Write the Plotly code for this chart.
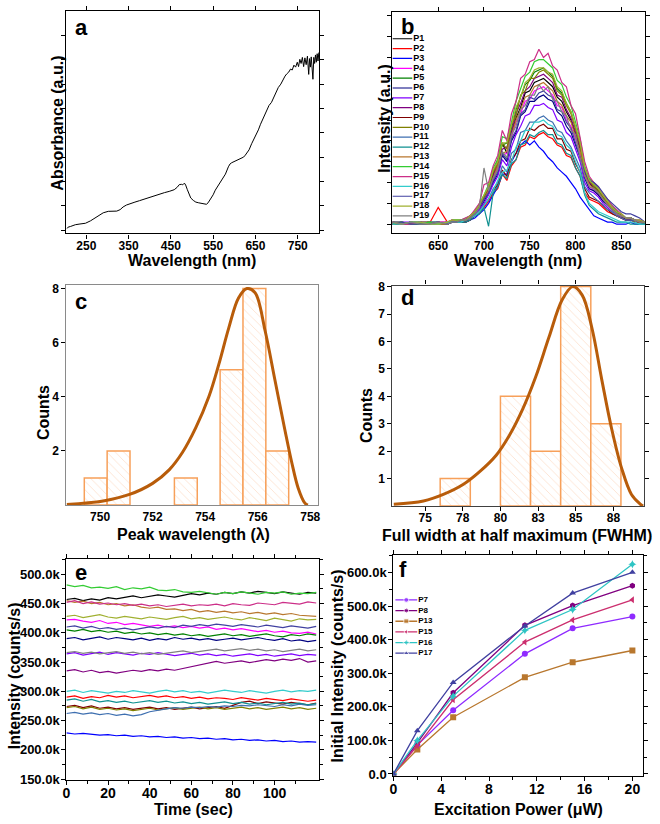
import plotly.graph_objects as go

W, H = 660, 824
FONT = "Liberation Sans"


def fx(px):
    return px / W


def fy(py):
    return 1 - py / H


# ==========================================================
# DATA
# ==========================================================

# --- a: absorbance spectrum (a.u.) ---
abs_wl = [204, 207, 213, 224, 235, 248, 260, 275, 290, 302, 315, 322, 330, 337, 345, 353,
          365, 376, 388, 400, 412, 423, 435, 446, 458, 465, 470, 475, 478, 482, 485, 489,
          493, 497, 503, 509, 516, 524, 530, 534, 538, 544, 550, 555, 563, 571, 579, 586,
          590, 594, 600, 606, 612, 618, 622, 626, 630, 635, 641, 646, 652, 657, 662, 667,
          672, 677, 682, 688, 693, 699, 704, 710, 715, 720, 724, 729, 733, 737, 741, 745,
          749, 752, 755, 758, 761, 764, 767, 770, 773, 776, 778, 780, 782, 784, 786, 788,
          790, 792, 794, 796, 798, 800]
abs_val = [0.06, 0.12, 0.15, 0.22, 0.25, 0.28, 0.38, 0.54, 0.71, 0.77, 0.78, 0.78, 0.84, 0.95,
           1.03, 1.09, 1.15, 1.21, 1.28, 1.36, 1.42, 1.49, 1.54, 1.59, 1.66, 1.76, 1.87, 1.88,
           1.86, 1.93, 1.85, 1.66, 1.45, 1.32, 1.22, 1.15, 1.12, 1.08, 1.05, 1.06, 1.12, 1.27,
           1.45, 1.64, 1.85, 2.05, 2.30, 2.60, 2.72, 2.77, 2.82, 2.87, 2.90, 2.96, 3.00, 3.08,
           3.16, 3.30, 3.55, 3.72, 3.95, 4.12, 4.35, 4.55, 4.78, 4.92, 5.12, 5.25, 5.45, 5.68,
           5.86, 6.00, 6.20, 6.33, 6.42, 6.50, 6.62, 6.58, 6.78, 6.70, 6.90, 6.72, 7.02, 6.85,
           7.10, 6.72, 7.08, 6.80, 7.15, 6.40, 7.05, 6.70, 7.12, 6.55, 6.20, 7.10, 6.85, 7.20,
           6.90, 7.25, 6.95, 7.30]

# --- b: PL spectra (intensity x10, a.u.) ---
pl_wl = [600, 610, 620, 630, 640, 650, 660, 665, 670, 675, 680, 685, 690, 695, 700, 705,
         710, 715, 720, 725, 730, 735, 740, 745, 750, 755, 760, 765, 770, 775, 780, 785,
         790, 795, 800, 805, 810, 815, 820, 825, 830, 835, 840, 845, 850, 855, 860, 865,
         870, 876]
pl_P1 = [0, 0, 1, 1, 0, 0, 1, 1, 1, 2, 2, 4, 6, 8, 13, 17, 24, 28, 39, 34, 44, 51, 56, 63, 64, 68,
         69, 70, 68, 66, 61, 59, 54, 50, 43, 36, 25, 20, 17, 15, 12, 10, 8, 6, 4, 3, 3, 2, 1, 1]
pl_P2 = [0, 1, 0, 1, 0, 8, 1, 1, 1, 1, 1, 2, 4, 5, 8, 11, 15, 17, 24, 21, 28, 31, 37, 38, 42, 41,
         43, 44, 42, 41, 38, 37, 33, 32, 27, 23, 15, 12, 11, 10, 8, 6, 5, 4, 3, 2, 2, 1, 1, 0]
pl_P3 = [1, 0, 0, 1, 0, 0, 1, 1, 1, 1, 1, 2, 3, 5, 7, 10, 14, 18, 24, 24, 30, 34, 38, 40, 38, 40,
         37, 35, 32, 30, 27, 25, 23, 20, 17, 13, 10, 7, 4, 3, 2, 1, 1, 0, 0, 0, 1, 0, 0, 0]
pl_P4 = [0, 1, 0, 1, 0, 1, 1, 1, 1, 2, 2, 3, 5, 8, 12, 16, 21, 27, 33, 34, 41, 49, 53, 59, 60, 64,
         65, 66, 64, 62, 57, 56, 50, 47, 41, 34, 23, 18, 16, 14, 12, 9, 7, 5, 4, 3, 3, 2, 1, 1]
pl_P5 = [0, 0, 1, 0, 1, 1, 0, 2, 2, 2, 2, 4, 6, 9, 13, 18, 24, 31, 38, 39, 46, 55, 61, 67, 69, 73,
         74, 75, 73, 71, 65, 63, 58, 54, 46, 39, 26, 21, 19, 16, 13, 10, 8, 6, 4, 3, 3, 2, 1, 1]
pl_P6 = [1, 0, 0, 1, 1, 0, 0, 1, 1, 2, 2, 3, 5, 7, 11, 15, 20, 24, 33, 30, 40, 44, 52, 54, 59, 59,
         61, 62, 60, 59, 54, 52, 47, 44, 38, 32, 22, 17, 16, 14, 11, 9, 7, 5, 4, 2, 2, 2, 1, 1]
pl_P7 = [0, 1, 1, 0, 0, 1, 0, 1, 1, 2, 2, 3, 5, 7, 10, 14, 19, 23, 31, 28, 37, 43, 47, 52, 53, 57,
         57, 58, 56, 55, 50, 49, 44, 42, 36, 30, 20, 16, 15, 13, 10, 8, 6, 5, 3, 2, 2, 2, 1, 1]
pl_P8 = [1, 0, 1, 0, 1, 0, 0, 1, 1, 2, 2, 4, 6, 9, 13, 17, 23, 30, 36, 37, 44, 53, 58, 64, 66, 70,
         71, 72, 70, 68, 62, 61, 55, 51, 44, 37, 25, 20, 18, 16, 13, 10, 8, 6, 4, 3, 3, 2, 1, 1]
pl_P9 = [0, 0, 1, 0, 1, 0, 1, 1, 1, 1, 1, 2, 4, 6, 9, 12, 16, 19, 26, 23, 31, 34, 40, 41, 46, 45,
         47, 48, 46, 46, 41, 41, 36, 35, 29, 25, 17, 13, 12, 11, 9, 7, 5, 4, 3, 2, 2, 1, 1, 0]
pl_P10 = [1, 1, 0, 0, 1, 0, 0, 1, 1, 2, 2, 4, 6, 9, 13, 18, 25, 29, 39, 36, 48, 52, 62, 64, 70, 70,
          73, 74, 72, 70, 64, 62, 57, 53, 46, 38, 26, 21, 18, 16, 13, 10, 8, 6, 4, 3, 3, 2, 1, 1]
pl_P11 = [0, 1, 0, 0, 1, 1, 0, 1, 1, 2, 2, 3, 4, 6, 9, 12, 17, 20, 28, 25, 34, 36, 44, 45, 49, 49,
          51, 52, 50, 49, 45, 44, 40, 37, 32, 27, 18, 15, 13, 11, 9, 7, 6, 4, 3, 2, 2, 2, 1, 1]
pl_P12 = [1, 0, 1, 0, 0, 1, 0, 1, 1, 1, 1, 2, 4, 5, 8, -1, 15, 18, 24, 22, 29, 31, 38, 39, 43, 42,
          44, 45, 43, 43, 39, 38, 34, 33, 27, 23, 14, 9, 7, 5, 4, 3, 2, 1, 1, 1, 0, 0, 0, 0]
pl_P13 = [1, 0, 0, 1, 1, 0, 0, 1, 1, 2, 2, 3, 5, 8, 12, 16, 22, 28, 34, 35, 42, 50, 55, 61, 62, 66,
          67, 68, 66, 64, 59, 57, 52, 49, 42, 35, 24, 19, 17, 15, 12, 10, 7, 5, 4, 3, 3, 2, 1, 1]
pl_P14 = [0, 1, 0, 0, 1, 0, 1, 2, 2, 2, 3, 4, 6, 10, 14, 19, 27, 31, 42, 41, 49, 59, 65, 71, 73, 78,
          79, 79, 77, 75, 69, 67, 61, 57, 49, 41, 28, 22, 20, 17, 14, 11, 9, 6, 5, 3, 3, 2, 2, 1]
pl_P15 = [1, 0, 0, 1, 0, 1, 1, 2, 1, 2, 3, 4, 7, 10, 19, 20, 28, 33, 45, 40, 53, 59, 70, 72, 78, 79,
          84, 80, 82, 76, 74, 68, 66, 57, 53, 41, 30, 23, 20, 18, 14, 12, 9, 7, 5, 3, 3, 2, 2, 1]
pl_P16 = [0, 0, 1, 1, 0, 0, 1, 1, 1, 1, 2, 3, 4, 6, 9, 12, 16, 21, 25, 26, 30, 37, 40, 45, 45, 49,
          49, 50, 48, 47, 43, 42, 38, 36, 30, 25, 15, 10, 8, 6, 5, 4, 3, 2, 1, 1, 1, 1, 0, 0]
pl_P17 = [1, 1, 0, 0, 0, 1, 0, 1, 1, 2, 2, 3, 5, 8, 12, 15, 21, 25, 34, 31, 41, 45, 53, 55, 61, 60,
          63, 64, 62, 61, 55, 54, 49, 46, 39, 33, 25, 21, 20, 18, 15, 12, 10, 8, 6, 5, 5, 4, 3, 1]
pl_P18 = [1, 0, 1, 1, 0, 0, 1, 2, 2, 2, 2, 4, 6, 9, 14, 18, 26, 30, 39, 39, 47, 56, 61, 68, 70, 74,
          75, 75, 73, 72, 66, 64, 58, 54, 47, 39, 27, 21, 19, 17, 14, 11, 8, 6, 5, 3, 3, 2, 2, 1]
pl_P19 = [1, 0, 1, 0, 0, 1, 0, 1, 1, 2, 2, 3, 5, 8, 27, 16, 22, 26, 35, 32, 43, 47, 55, 57, 62, 62,
          67, 64, 66, 60, 59, 54, 52, 45, 43, 32, 23, 18, 17, 15, 12, 9, 7, 5, 4, 3, 3, 2, 1, 1]

p_names = ["P%d" % i for i in range(1, 20)]
p_colors = ["#000000", "#ff0000", "#0000ff", "#ff00ff", "#008000", "#000080", "#8000ff",
            "#800080", "#800000", "#808000", "#3e6fb0", "#0f9090", "#b8772e", "#33cc33",
            "#cc2e88", "#33cccc", "#4040a0", "#a0b030", "#808080"]
pl_all = [pl_P1, pl_P2, pl_P3, pl_P4, pl_P5, pl_P6, pl_P7, pl_P8, pl_P9, pl_P10,
          pl_P11, pl_P12, pl_P13, pl_P14, pl_P15, pl_P16, pl_P17, pl_P18, pl_P19]

# --- c: peak wavelength histogram ---
c_bin_left = [749.40, 750.27, 752.83, 754.57, 755.44, 756.31]
c_bin_width = 0.87
c_counts = [1, 2, 1, 5, 8, 2]
c_fit_x = [748.73, 750.12, 751.12, 752.0, 752.63, 753.14, 753.64, 754.14, 754.52, 754.9,
           755.27, 755.59, 755.9, 756.28, 756.66, 757.03, 757.29, 757.54, 757.79, 757.91]
c_fit_y = [0.02, 0.15, 0.39, 0.8, 1.3, 1.95, 2.85, 4.0, 5.2, 6.55,
           7.65, 8.0, 7.85, 6.45, 4.6, 2.8, 1.6, 0.63, 0.08, 0.0]

# --- d: FWHM histogram ---
d_bin_left = [76, 80, 82, 84, 86]
d_bin_width = 2
d_counts = [1, 4, 2, 8, 3]
d_fit_x = [72.92, 74.89, 76.21, 77.52, 78.62, 79.72, 80.59, 81.47, 82.35, 83.22,
           84.1, 84.8, 85.42, 86.07, 86.73, 87.39, 88.05, 88.7, 89.26, 89.47]
d_fit_y = [0.06, 0.18, 0.42, 0.78, 1.25, 1.85, 2.57, 3.52, 4.72, 6.15,
           7.52, 8.0, 7.7, 6.5, 4.6, 2.8, 1.37, 0.42, 0.08, 0.0]

# --- e: intensity time traces (k counts/s) ---
e_time = list(range(0, 121, 4))
e_P14 = [482, 479, 481, 477, 478, 476, 479, 474, 477, 475, 478, 473, 472, 474, 470, 469, 471, 468,
         466, 469, 467, 470, 468, 466, 469, 468, 470, 466, 468, 467, 469]
e_P1 = [457, 459, 455, 458, 456, 460, 458, 461, 463, 460, 462, 465, 463, 461, 464, 467, 465, 468,
        466, 469, 467, 470, 468, 471, 469, 467, 470, 468, 466, 469, 468]
e_P15 = [452, 455, 450, 453, 449, 451, 448, 450, 447, 449, 446, 448, 445, 447, 449, 446, 448, 447,
         449, 446, 450, 448, 447, 451, 449, 448, 452, 450, 449, 453, 451]
e_P13 = [455, 452, 454, 450, 452, 448, 450, 446, 448, 444, 442, 444, 440, 441, 438, 440, 436, 438,
         435, 437, 434, 436, 433, 435, 432, 434, 431, 433, 430, 429, 428]
e_P18 = [428, 430, 426, 429, 431, 427, 425, 428, 426, 424, 427, 425, 423, 426, 428, 424, 426, 423,
         425, 427, 424, 422, 426, 424, 421, 425, 423, 420, 424, 422, 423]
e_P4 = [422, 423, 420, 418, 421, 416, 418, 414, 416, 413, 411, 413, 410, 412, 409, 411, 408, 410,
        406, 408, 405, 407, 404, 402, 404, 401, 403, 400, 399, 401, 398]
e_P17 = [410, 412, 408, 411, 407, 409, 406, 408, 405, 407, 410, 408, 411, 409, 413, 411, 414, 412,
         415, 413, 411, 414, 412, 410, 413, 411, 409, 412, 410, 408, 411]
e_P5 = [405, 403, 406, 402, 404, 401, 403, 399, 401, 398, 400, 397, 399, 396, 398, 395, 397, 394,
        396, 398, 395, 397, 394, 396, 398, 395, 393, 397, 395, 398, 396]
e_P6 = [390, 392, 388, 391, 393, 389, 392, 390, 388, 391, 387, 390, 388, 392, 389, 391, 388, 390,
        387, 389, 391, 388, 390, 392, 389, 387, 390, 386, 388, 385, 387]
e_P19 = [366, 368, 365, 367, 364, 366, 368, 365, 367, 364, 366, 363, 365, 367, 369, 366, 368, 370,
         372, 369, 371, 373, 370, 372, 369, 371, 368, 370, 372, 369, 371]
e_P7 = [364, 366, 362, 365, 367, 363, 366, 364, 362, 365, 363, 366, 364, 361, 363, 365, 362, 364,
        361, 363, 360, 362, 364, 361, 363, 360, 362, 364, 361, 363, 362]
e_P8 = [335, 337, 333, 336, 332, 334, 331, 333, 336, 334, 337, 335, 338, 336, 339, 342, 346, 349,
        351, 348, 350, 352, 349, 351, 354, 352, 355, 353, 356, 350, 352]
e_P16 = [300, 302, 298, 301, 299, 297, 300, 298, 301, 299, 297, 300, 302, 299, 301, 298, 300, 297,
         299, 302, 300, 298, 301, 299, 297, 300, 302, 299, 301, 300, 302]
e_P2 = [290, 292, 288, 291, 289, 293, 290, 292, 289, 291, 293, 290, 292, 289, 291, 288, 290, 287,
        289, 288, 286, 289, 287, 285, 288, 286, 284, 287, 285, 283, 285]
e_P12 = [285, 287, 283, 286, 282, 284, 281, 283, 280, 282, 284, 281, 283, 280, 282, 279, 281, 278,
         280, 282, 279, 281, 278, 280, 277, 279, 281, 278, 280, 277, 279]
e_P9 = [274, 276, 272, 275, 271, 273, 270, 272, 269, 271, 273, 270, 272, 269, 271, 273, 270, 272,
        274, 271, 276, 281, 283, 279, 282, 280, 278, 281, 279, 277, 280]
e_P10 = [272, 274, 270, 273, 269, 271, 268, 270, 267, 269, 271, 268, 270, 272, 269, 271, 273, 270,
         272, 269, 271, 273, 270, 272, 269, 271, 273, 270, 272, 269, 271]
e_P11 = [262, 264, 261, 263, 260, 262, 259, 261, 258, 260, 265, 268, 270, 272, 271, 273, 272, 274,
         273, 275, 274, 276, 275, 277, 276, 274, 277, 275, 278, 276, 277]
e_P3 = [229, 227, 228, 226, 225, 226, 224, 225, 223, 224, 222, 223, 221, 222, 220, 221, 219, 220,
        218, 219, 217, 218, 216, 217, 215, 216, 214, 215, 213, 214, 213]
e_traces = [(e_P1, 0), (e_P2, 1), (e_P3, 2), (e_P4, 3), (e_P5, 4), (e_P6, 5), (e_P7, 6),
            (e_P8, 7), (e_P9, 8), (e_P10, 9), (e_P11, 10), (e_P12, 11), (e_P13, 12),
            (e_P14, 13), (e_P15, 14), (e_P16, 15), (e_P17, 16), (e_P18, 17), (e_P19, 18)]

# --- f: initial intensity vs excitation power (k counts/s) ---
f_power = [0, 2, 5, 11, 15, 20]
f_names = ["P7", "P8", "P13", "P15", "P16", "P17"]
f_P7 = [0, 86, 190, 358, 434, 469]
f_P8 = [0, 93, 242, 443, 502, 561]
f_P13 = [0, 73, 169, 288, 333, 368]
f_P15 = [0, 84, 221, 393, 459, 519]
f_P16 = [0, 100, 232, 428, 490, 625]
f_P17 = [0, 129, 273, 441, 539, 601]
f_colors = ["#8f2bff", "#800080", "#b8772e", "#cc2e6e", "#2ec4c4", "#4040a0"]
f_symbols = ["circle", "hexagon", "square", "triangle-left", "star-diamond", "triangle-up"]
f_all = [f_P7, f_P8, f_P13, f_P15, f_P16, f_P17]


# ==========================================================
# FIGURE
# ==========================================================
fig = go.Figure()

# a
fig.add_trace(go.Scatter(x=abs_wl, y=abs_val, mode="lines",
                         line=dict(color="black", width=1), xaxis="x", yaxis="y"))

# b
for vals, col in zip(pl_all, p_colors):
    fig.add_trace(go.Scatter(x=pl_wl, y=vals, mode="lines",
                             line=dict(color=col, width=1.2), xaxis="x2", yaxis="y2"))

# c
fig.add_trace(go.Bar(x=c_bin_left, y=c_counts, width=c_bin_width, offset=0,
                     marker=dict(color="white", line=dict(color="#f7a05a", width=1.5),
                                 pattern=dict(shape="\\", fgcolor="#f9b88a", size=6, solidity=0.12)),
                     xaxis="x3", yaxis="y3"))
fig.add_trace(go.Scatter(x=c_fit_x, y=c_fit_y, mode="lines", line_shape="spline",
                         line=dict(color="#b85c0a", width=3), xaxis="x3", yaxis="y3"))

# d
fig.add_trace(go.Bar(x=d_bin_left, y=d_counts, width=d_bin_width, offset=0,
                     marker=dict(color="white", line=dict(color="#f7a05a", width=1.5),
                                 pattern=dict(shape="\\", fgcolor="#f9b88a", size=6, solidity=0.12)),
                     xaxis="x4", yaxis="y4"))
fig.add_trace(go.Scatter(x=d_fit_x, y=d_fit_y, mode="lines", line_shape="spline",
                         line=dict(color="#b85c0a", width=3), xaxis="x4", yaxis="y4"))

# e
for vals, idx in e_traces:
    fig.add_trace(go.Scatter(x=e_time, y=vals, mode="lines",
                             line=dict(color=p_colors[idx], width=1.2), xaxis="x5", yaxis="y5"))

# f
for vals, col, sym in zip(f_all, f_colors, f_symbols):
    fig.add_trace(go.Scatter(x=f_power, y=vals, mode="lines+markers",
                             line=dict(color=col, width=1.3),
                             marker=dict(color=col, symbol=sym, size=6),
                             xaxis="x6", yaxis="y6"))

# legend of b (drawn on a hidden helper axis, one row per entry)
leg_font = dict(family=FONT, size=9, color="black", weight="bold")
for i, (name, col) in enumerate(zip(p_names, p_colors), start=1):
    fig.add_trace(go.Scatter(x=[0, 20], y=[i, i], mode="lines", line=dict(color=col, width=1.2),
                             xaxis="x7", yaxis="y7"))
    fig.add_trace(go.Scatter(x=[21], y=[i], mode="text", text=[name], textposition="middle right",
                             textfont=leg_font, xaxis="x7", yaxis="y7"))

# legend of f
leg_font_f = dict(family=FONT, size=8, color="black", weight="bold")
for i, (name, col, sym) in enumerate(zip(f_names, f_colors, f_symbols), start=1):
    fig.add_trace(go.Scatter(x=[2, 13, 24], y=[i, i, i], mode="lines+markers",
                             line=dict(color=col, width=1.3),
                             marker=dict(color=col, symbol=sym, size=[0, 5, 0]),
                             xaxis="x8", yaxis="y8"))
    fig.add_trace(go.Scatter(x=[25], y=[i], mode="text", text=[name], textposition="middle right",
                             textfont=leg_font_f, xaxis="x8", yaxis="y8"))


# ==========================================================
# AXES
# ==========================================================
def ax(domain, rng, anchor, fs=12, mirror="ticks", linecolor="black", lw=1.3,
       ticks="outside", showlabels=True, **kw):
    d = dict(domain=domain, range=rng, anchor=anchor, showgrid=False, zeroline=False,
             showline=True, linecolor=linecolor, linewidth=lw, mirror=mirror,
             ticks=ticks, ticklen=4, tickwidth=1, tickcolor="black",
             showticklabels=showlabels,
             tickfont=dict(family=FONT, size=fs, color="black", weight="bold"))
    d.update(kw)
    return d


e_yticks = [150, 200, 250, 300, 350, 400, 450, 500]
f_yticks = [0, 100, 200, 300, 400, 500, 600]

fig.update_layout(
    width=W, height=H, margin=dict(l=0, r=0, t=0, b=0),
    paper_bgcolor="white", plot_bgcolor="rgba(0,0,0,0)",
    showlegend=False, hovermode=False, barmode="overlay",
    # a
    xaxis=ax([fx(63), fx(318)], [203, 800.6], "y", tickvals=[250, 350, 450, 550, 650, 750],
             ticklabelstandoff=-3),
    yaxis=ax([fy(231), fy(5)], [-0.135, 9.01], "x", showlabels=False, tickvals=list(range(0, 9))),
    # b
    xaxis2=ax([fx(392), fx(647)], [600, 876], "y2", tickvals=[650, 700, 750, 800, 850],
              ticklabelstandoff=-3),
    yaxis2=ax([fy(231), fy(6)], [-4.4, 101.9], "x2", showlabels=False,
              tickvals=list(range(0, 101, 10))),
    # c
    xaxis3=ax([fx(63), fx(317)], [748.72, 758.3], "y3", mirror=True, linecolor="#8a8a8a",
              lw=1.2, ticks="", tickvals=[750, 752, 754, 756, 758]),
    yaxis3=ax([fy(507), fy(283)], [0, 8.15], "x3", mirror=True, linecolor="#8a8a8a",
              lw=1.2, tickvals=[2, 4, 6, 8]),
    # d
    xaxis4=ax([fx(392), fx(646)], [72.83, 89.54], "y4", linecolor="#404040", lw=1.2,
              tickvals=[75, 77.5, 80, 82.5, 85, 87.5], ticklabelstandoff=-3,
              ticktext=["75", "78", "80", "83", "85", "88"]),
    yaxis4=ax([fy(508), fy(284)], [0, 8.04], "x4", linecolor="#404040", lw=1.2,
              tickvals=[1, 2, 3, 4, 5, 6, 7, 8]),
    # e
    xaxis5=ax([fx(63), fx(318)], [0, 121.4], "y5", fs=14, tickvals=[0, 20, 40, 60, 80, 100],
              ticklabelstandoff=-4,
              minor=dict(tickmode="linear", tick0=10, dtick=20, ticks="outside", ticklen=3)),
    yaxis5=ax([fy(786), fy(562)], [149, 526], "x5", fs=13, tickvals=e_yticks,
              ticktext=["%.1fk" % v for v in e_yticks], ticklabelstandoff=-1,
              minor=dict(tickmode="linear", tick0=175, dtick=50, ticks="outside", ticklen=3)),
    # f
    xaxis6=ax([fx(393), fx(645)], [0, 20.9], "y6", fs=14, tickvals=[0, 4, 8, 12, 16, 20],
              ticklabelstandoff=-4,
              minor=dict(tickmode="linear", tick0=2, dtick=4, ticks="outside", ticklen=3)),
    yaxis6=ax([fy(782), fy(558)], [-5, 652], "x6", fs=13, tickvals=f_yticks,
              ticktext=["0.0"] + ["%.1fk" % v for v in f_yticks[1:]], ticklabelstandoff=-1,
              minor=dict(tickmode="linear", tick0=50, dtick=100, ticks="outside", ticklen=3)),
    # legend helper axes
    xaxis7=dict(domain=[fx(392), fx(452)], range=[0, 60], anchor="y7", visible=False),
    yaxis7=dict(domain=[fy(218.3), fy(28.3)], range=[19.5, 0.5], anchor="x7", visible=False),
    xaxis8=dict(domain=[fx(393), fx(453)], range=[0, 60], anchor="y8", visible=False),
    yaxis8=dict(domain=[fy(663), fy(598)], range=[6.5, 0.5], anchor="x8", visible=False),
)


# ==========================================================
# TEXT: axis titles and panel letters
# ==========================================================
def note(text, x, y, size=16, angle=0):
    fig.add_annotation(text=text, x=fx(x), y=fy(y), xref="paper", yref="paper",
                       xanchor="center", yanchor="middle", showarrow=False, textangle=angle,
                       font=dict(family=FONT, size=size, color="black", weight="bold"))


note("Wavelength (nm)", 190, 259)
note("Absorbance (a.u.)", 54, 119, angle=-90)
note("Wavelength (nm)", 519, 259)
note("Intensity (a.u.)", 384, 115, angle=-90)
note("Peak wavelength (λ)", 191, 537)
note("Counts", 40, 413, angle=-90)
note("Full width at half maximum (FWHM)", 518, 538)
note("Counts", 366, 416, angle=-90)
note("Time (sec)", 191, 816)
note("Intensity (counts/s)", 10, 680, angle=-90)
note("Excitation Power (μW)", 519, 816)
note("Initial Intensity (counts/s)", 336, 670, angle=-90)

for letter, x, y in [("a", 78, 22), ("b", 407, 21), ("c", 78, 300),
                     ("d", 407, 296), ("e", 78, 576), ("f", 403, 573)]:
    note(letter, x, y, size=22)

# the page body has a default 8px margin; drop it so the figure fills the window
fig.write_html("out.html", config={"displayModeBar": False},
               post_script="document.body.style.margin='0';")
